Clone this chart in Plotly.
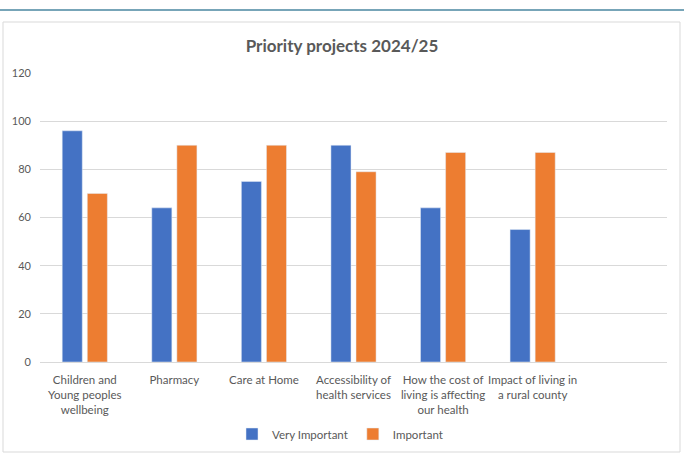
import plotly.graph_objects as go

categories = ["Children and<br>Young peoples<br>wellbeing", "Pharmacy", "Care at Home",
              "Accessibility of<br>health services", "How the cost of<br>living is affecting<br>our health",
              "Impact of living in<br>a rural county"]
very_important = [96, 64, 75, 90, 64, 55]
important = [70, 90, 90, 79, 87, 87]
y_ticks = [0, 20, 40, 60, 80, 100, 120]

W, H = 684, 454
L, R, T, B = 40, 17, 73, 92
pw, ph = W - L - R, H - T - B

def px(x):
    return (x - L) / pw

def py(y):
    return (H - B - y) / ph

fig = go.Figure()
fig.add_trace(go.Bar(x=categories, y=very_important, name="Very Important", marker_color="#4472C4"))
fig.add_trace(go.Bar(x=categories, y=important, name="Important", marker_color="#ED7D31"))

font_family = "Lato, 'Open Sans', sans-serif"
fig.update_layout(
    width=W, height=H,
    margin=dict(l=L, r=R, t=T, b=B, autoexpand=False),
    paper_bgcolor="white", plot_bgcolor="white",
    barmode="group", bargap=0.44, bargroupgap=0.2,
    font=dict(family=font_family, size=11, color="#595959"),
    title=dict(text="<b>Priority projects 2024/25</b>", x=0.5, xref="container", xanchor="center",
               y=1 - 46 / H, yref="container", yanchor="middle",
               font=dict(family=font_family, size=17, color="#595959")),
    xaxis=dict(type="category", range=[-0.5, 6.5], showgrid=False, showline=True, automargin=False,
               linecolor="#D9D9D9", linewidth=1, ticks="", tickfont=dict(size=11.5, color="#595959"),
               ticklabelstandoff=7, fixedrange=True),
    yaxis=dict(range=[0, 120], tickvals=y_ticks, showgrid=True, gridcolor="#D9D9D9", gridwidth=1,
               automargin=False, zeroline=False, showline=False, ticks="",
               tickfont=dict(size=11, color="#595959"), ticklabelstandoff=8, fixedrange=True),
    legend=dict(orientation="h", xref="container", x=340 / W, xanchor="center",
                yref="container", y=1 - 434 / H, yanchor="middle",
                font=dict(size=11.5, color="#595959"), itemwidth=30, traceorder="normal"),
    showlegend=True,
    shapes=[
        dict(type="line", xref="paper", yref="paper", x0=px(0), x1=px(W), y0=py(10), y1=py(10),
             line=dict(color="#4A87A0", width=1.5)),
        dict(type="rect", xref="paper", yref="paper", x0=px(3), x1=px(680), y0=py(452), y1=py(22),
             line=dict(color="#D9D9D9", width=1), layer="below"),
    ],
)

fig.write_html("out.html", config={"displayModeBar": False},
               post_script="document.body.style.margin='0';")
